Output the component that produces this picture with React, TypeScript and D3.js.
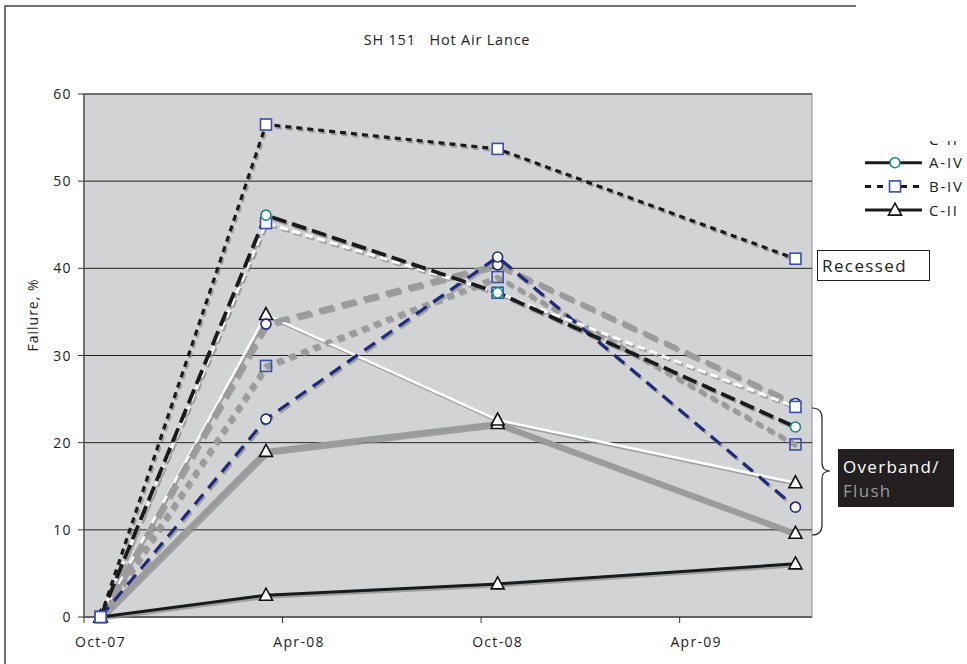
import React from "react";
import * as d3 from "d3";

const months = [
  "Oct-07","Nov-07","Dec-07","Jan-08","Feb-08","Mar-08","Apr-08","May-08","Jun-08","Jul-08","Aug-08","Sep-08",
  "Oct-08","Nov-08","Dec-08","Jan-09","Feb-09","Mar-09","Apr-09","May-09","Jun-09","Jul-09",
];
const tickMonths = ["Oct-07", "Apr-08", "Oct-08", "Apr-09"];
const pointMonths = ["Oct-07", "Mar-08", "Oct-08", "Jul-09"];
const yTicks = [0, 10, 20, 30, 40, 50, 60];

const bivRecessed = [0, 56.5, 53.7, 41.1];
const aivRecessed = [0, 46.1, 37.2, 21.8];
const whiteDash = [0, 45.2, 37.2, 24.1];
const grayLongDash = [0, 33.6, 40.4, 24.5];
const grayShortDash = [0, 28.8, 39.0, 19.8];
const navyDash = [0, 22.7, 41.3, 12.6];
const whiteSolid = [0, 34.7, 22.6, 15.4];
const graySolid = [0, 19.0, 22.2, 9.6];
const blackSolid = [0, 2.5, 3.8, 6.1];

type Marker = "circle" | "square" | "triangle";
interface Series {
  values: number[];
  color: string;
  width: number;
  dash: string;
  marker: Marker;
  mStroke: string;
  mFill: string;
}

const series: Series[] = [
  { values: blackSolid, color: "#1a1a1a", width: 3, dash: "", marker: "triangle", mStroke: "#111", mFill: "#fff" },
  { values: graySolid, color: "#9b9b9d", width: 5, dash: "", marker: "triangle", mStroke: "#111", mFill: "#fff" },
  { values: whiteSolid, color: "#ffffff", width: 2.5, dash: "", marker: "triangle", mStroke: "#111", mFill: "#fff" },
  { values: grayShortDash, color: "#9b9b9d", width: 4.5, dash: "7,6", marker: "square", mStroke: "#3a4fa8", mFill: "none" },
  { values: grayLongDash, color: "#9b9b9d", width: 5, dash: "15,8", marker: "circle", mStroke: "#1f2a7a", mFill: "#fff" },
  { values: navyDash, color: "#1f2a7a", width: 3.2, dash: "13,8", marker: "circle", mStroke: "#1f2a7a", mFill: "#fff" },
  { values: whiteDash, color: "#ffffff", width: 3, dash: "8,5", marker: "square", mStroke: "#3a4fa8", mFill: "#fff" },
  { values: aivRecessed, color: "#1a1a1a", width: 3.8, dash: "15,6", marker: "circle", mStroke: "#138a8a", mFill: "#fff" },
  { values: bivRecessed, color: "#1a1a1a", width: 3.2, dash: "6,5", marker: "square", mStroke: "#3a4fa8", mFill: "#fff" },
];

const legendItems = [
  { label: "C-II", color: "#1a1a1a", dash: "4,6", marker: "none" as const, stroke: "#111" },
  { label: "A-IV", color: "#1a1a1a", dash: "", marker: "circle" as Marker, stroke: "#138a8a" },
  { label: "B-IV", color: "#1a1a1a", dash: "6,6", marker: "square" as Marker, stroke: "#3a4fa8" },
  { label: "C-II", color: "#1a1a1a", dash: "", marker: "triangle" as Marker, stroke: "#111" },
];

const FONT = "'Open Sans', 'DejaVu Sans', sans-serif";

function MarkerShape({ type, x, y, stroke, fill }: { type: Marker; x: number; y: number; stroke: string; fill: string }) {
  if (type === "circle") return <circle cx={x} cy={y} r={5} fill={fill} stroke={stroke} strokeWidth={1.6} />;
  if (type === "square") return <rect x={x - 5.5} y={y - 5.5} width={11} height={11} fill={fill} stroke={stroke} strokeWidth={1.6} />;
  const p = `M${x},${y - 7}L${x + 6.5},${y + 5}L${x - 6.5},${y + 5}Z`;
  return <path d={p} fill={fill} stroke={stroke} strokeWidth={1.6} strokeLinejoin="miter" />;
}

export default function App() {
  const W = 967, H = 664;
  const left = 84, right = 812, top = 94, bottom = 617;
  const x = d3.scaleBand<string>().domain(months).range([left, right]).padding(0);
  const y = d3.scaleLinear().domain([0, 60]).range([bottom, top]);
  const cx = (m: string) => (x(m) as number) + x.bandwidth() / 2;
  const line = d3.line<number>().x((_, i) => cx(pointMonths[i])).y((v) => y(v));

  const bTop = 408, bBot = 535, bMid = 471;
  const brace = `M812,${bTop} Q822,${bTop} 822,${bTop + 10} L822,${bMid - 8} Q822,${bMid} 830,${bMid} Q822,${bMid} 822,${bMid + 8} L822,${bBot - 10} Q822,${bBot} 812,${bBot}`;

  return (
    <svg width={W} height={H} style={{ position: "absolute", left: 0, top: 0, fontFamily: FONT }}>
      <defs>
        <clipPath id="legclip">
          <rect x={850} y={141} width={120} height={100} />
        </clipPath>
      </defs>
      <rect x={0} y={0} width={W} height={H} fill="#fff" />
      <path d={`M5,${H} L5,6 L856,6`} fill="none" stroke="#444" strokeWidth={1.5} />
      <text x={447} y={45} textAnchor="middle" fontSize={14.5} letterSpacing={0.8} fill="#222" style={{ whiteSpace: "pre" }}>
        {"SH 151   Hot Air Lance"}
      </text>

      <rect x={left} y={top} width={right - left} height={bottom - top} fill="#d2d3d5" stroke="#8e8e8e" strokeWidth={1} />
      {yTicks.map((t) => (
        <g key={t}>
          {t > 0 && <line x1={left} x2={right} y1={y(t)} y2={y(t)} stroke="#222" strokeWidth={1} />}
          <line x1={left - 6} x2={left} y1={y(t)} y2={y(t)} stroke="#333" />
          <text x={left - 12} y={y(t) + 5} textAnchor="end" fontSize={14} letterSpacing={1.4} fill="#222">{t}</text>
        </g>
      ))}
      <line x1={left} x2={left} y1={top} y2={bottom} stroke="#444" strokeWidth={1.2} />
      <line x1={left} x2={right} y1={bottom} y2={bottom} stroke="#444" strokeWidth={1.5} />
      {tickMonths.map((m) => (
        <g key={m}>
          <line x1={x(m) as number} x2={x(m) as number} y1={bottom} y2={bottom + 6} stroke="#333" />
          <text x={cx(m)} y={647} textAnchor="middle" fontSize={14} letterSpacing={1.3} fill="#222">{m}</text>
        </g>
      ))}
      <text transform={`translate(38,315) rotate(-90)`} textAnchor="middle" fontSize={14} letterSpacing={1} fill="#222">Failure, %</text>

      <g transform="translate(1.5,2)" opacity={0.7}>
        {series.map((s, i) => (
          <path key={i} d={line(s.values) as string} fill="none" stroke="#8a8a8c" strokeWidth={s.width} strokeDasharray={s.dash} />
        ))}
      </g>
      {series.map((s, i) => (
        <path key={i} d={line(s.values) as string} fill="none" stroke={s.color} strokeWidth={s.width} strokeDasharray={s.dash} />
      ))}
      {series.map((s, i) => (
        <g key={i}>
          {s.values.map((v, j) => (
            <MarkerShape key={j} type={s.marker} x={cx(pointMonths[j])} y={y(v)} stroke={s.mStroke} fill={s.mFill} />
          ))}
        </g>
      ))}

      <g clipPath="url(#legclip)">
        {legendItems.map((l, i) => {
          const ly = 139 + i * 23.7;
          return (
            <g key={i}>
              <line x1={865} x2={922} y1={ly} y2={ly} stroke={l.color} strokeWidth={3} strokeDasharray={l.dash} />
              {l.marker !== "none" && <MarkerShape type={l.marker} x={895} y={ly} stroke={l.stroke} fill="#fff" />}
              <text x={929} y={ly + 5.5} fontSize={15} letterSpacing={1.8} fill="#222">{l.label}</text>
            </g>
          );
        })}
      </g>

      <rect x={817.5} y={250.5} width={112} height={30} fill="#fff" stroke="#222" strokeWidth={1} />
      <text x={822} y={271.5} fontSize={17} letterSpacing={1.4} fill="#222">Recessed</text>

      <path d={brace} fill="none" stroke="#222" strokeWidth={1.2} />
      <rect x={838} y={449} width={116} height={58} fill="#231f20" />
      <text x={843} y={473} fontSize={17} letterSpacing={1.3} fill="#fff">Overband/</text>
      <text x={843} y={497} fontSize={17} letterSpacing={1.3} fill="#9a9a9a">Flush</text>
    </svg>
  );
}
